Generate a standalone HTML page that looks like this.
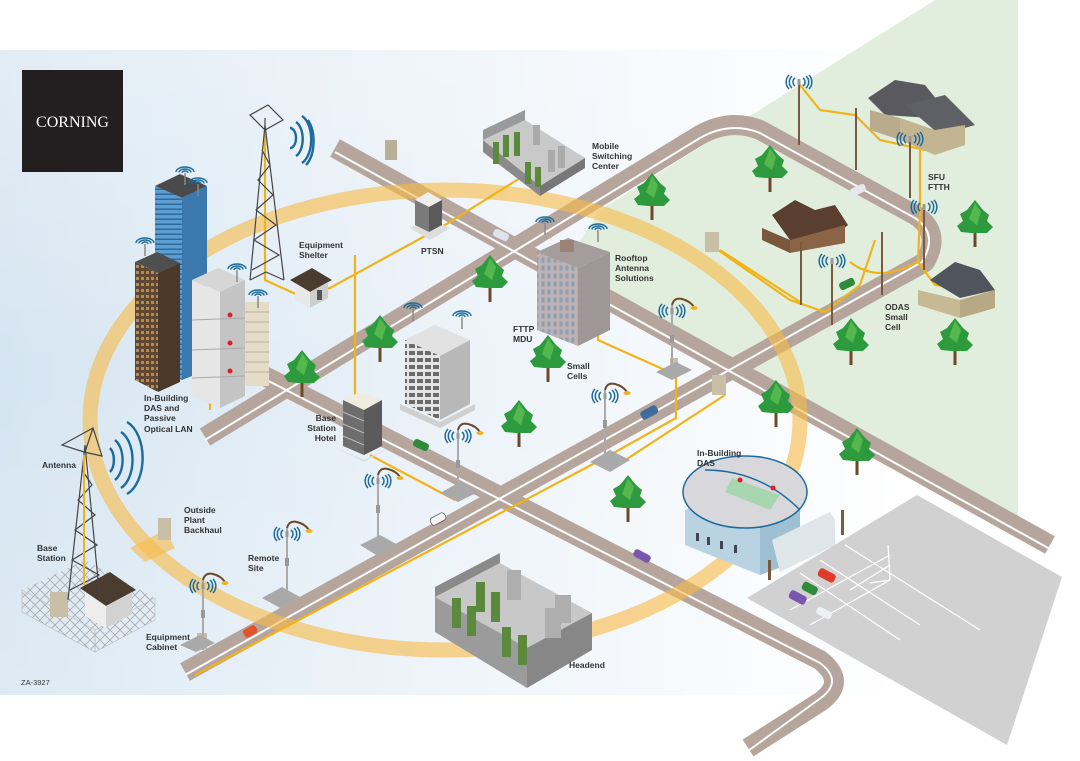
<!DOCTYPE html>
<html><head><meta charset="utf-8"><style>
html,body{margin:0;padding:0;background:#fff;}
svg{display:block;}
text{font-family:"Liberation Sans",Arial,sans-serif;font-weight:bold;font-size:8.5px;fill:#333;}
</style></head><body>
<svg width="1080" height="761" viewBox="0 0 1080 761" xmlns="http://www.w3.org/2000/svg">
<defs>
<linearGradient id="bg" x1="0" y1="0" x2="900" y2="0" gradientUnits="userSpaceOnUse">
<stop offset="0" stop-color="#d5e5f1"/><stop offset="0.45" stop-color="#e9f1f8"/><stop offset="1" stop-color="#ffffff"/></linearGradient>
<linearGradient id="bgv" x1="0" y1="50" x2="0" y2="695" gradientUnits="userSpaceOnUse">
<stop offset="0" stop-color="#fff" stop-opacity="0.3"/><stop offset="0.5" stop-color="#fff" stop-opacity="0"/><stop offset="1" stop-color="#fff" stop-opacity="0.2"/></linearGradient>
<pattern id="win" width="4" height="5" patternUnits="userSpaceOnUse"><rect width="4" height="5" fill="#5d9ed2"/><rect y="3.5" width="4" height="1.5" fill="#2f6a9c"/></pattern>
<pattern id="winb" width="5" height="6" patternUnits="userSpaceOnUse"><rect width="5" height="6" fill="#5e4631"/><rect x="1" y="1" width="3" height="3" fill="#b58a55"/></pattern>
<pattern id="wing" width="8" height="7" patternUnits="userSpaceOnUse"><rect width="8" height="7" fill="#e4e4e4"/><rect x="1" y="1" width="6" height="4" fill="#6b6b6b"/></pattern>
<pattern id="winp" width="6" height="8" patternUnits="userSpaceOnUse"><rect width="6" height="8" fill="#bdb3b5"/><rect x="1.5" y="1.5" width="3" height="5" fill="#8e9fb3"/></pattern>
<pattern id="lat" width="10" height="10" patternUnits="userSpaceOnUse"><path d="M0,0L10,10M10,0L0,10" stroke="#aaa" stroke-width="0.8"/></pattern>
<symbol id="tree" viewBox="-20 -45 40 50" overflow="visible">
<rect x="-1.5" y="-12" width="3" height="14" fill="#6b4a2a"/>
<path d="M0,-45 L8,-35 L14,-30 L12,-24 L18,-18 L12,-12 L4,-12 L-4,-12 L-14,-13 L-18,-19 L-12,-24 L-15,-31 L-8,-35 Z" fill="#2e9a3e"/>
<path d="M0,-42 L6,-33 L2,-20 L-6,-26 Z" fill="#55b84f"/>
</symbol>
<symbol id="sig" viewBox="-12 -8 24 16" overflow="visible">
<g fill="none" stroke="#1d6b9c" stroke-width="1.5">
<path d="M-4,-4 A5,5 0 0 0 -4,4"/><path d="M-7,-6 A8,8 0 0 0 -7,6"/><path d="M-10,-7 A10,10 0 0 0 -10,7"/>
<path d="M4,-4 A5,5 0 0 1 4,4"/><path d="M7,-6 A8,8 0 0 1 7,6"/><path d="M10,-7 A10,10 0 0 1 10,7"/></g>
<rect x="-1.5" y="-3" width="3" height="6" fill="#999"/>
</symbol>
<symbol id="dome" viewBox="-10 -6 20 12" overflow="visible">
<g fill="none" stroke="#1d6b9c" stroke-width="1.4">
<path d="M-9,1 A9,5 0 0 1 9,1"/><path d="M-6,1.5 A6,3.5 0 0 1 6,1.5"/><path d="M-3,2 A3,2 0 0 1 3,2"/></g>
<line x1="0" y1="2" x2="0" y2="14" stroke="#888" stroke-width="1.5"/>
</symbol>
<symbol id="lamp" viewBox="0 0 30 80" overflow="visible">
<line x1="0" y1="0" x2="0" y2="70" stroke="#aaa" stroke-width="2"/>
<path d="M0,0 Q2,-8 10,-6 Q18,-4 22,2" fill="none" stroke="#6b4a2a" stroke-width="2"/>
<ellipse cx="22" cy="3" rx="3.5" ry="2" fill="#f0b020"/>
<rect x="-2" y="30" width="4" height="8" fill="#999"/>
<use href="#sig" x="-12" y="-2" width="24" height="16"/>
</symbol>
</defs>

<rect x="0" y="50" width="1080" height="645" fill="url(#bg)"/>
<rect x="0" y="50" width="1080" height="645" fill="url(#bgv)"/>
<polygon points="935,0 1018,0 1018,528 560,272 600,210" fill="#e2eedd"/>

<polygon points="747,598 917,495 1062,577 1007,745" fill="#d1d1d1"/>
<g stroke="#fff" stroke-width="1.2"><line x1="800" y1="573" x2="900" y2="640"/><line x1="820" y1="560" x2="920" y2="625"/><line x1="845" y1="545" x2="980" y2="630"/><line x1="790" y1="610" x2="890" y2="555"/><line x1="810" y1="625" x2="890" y2="580"/><line x1="850" y1="590" x2="890" y2="565"/><line x1="890" y1="580" x2="888" y2="545"/><line x1="870" y1="583" x2="890" y2="580"/></g>

<g fill="none" stroke="#b5a59c" stroke-width="20" stroke-linejoin="round">
<path d="M335,148 L1050,545"/>
<path d="M205,437 L700,135 Q730,118 760,130 L915,215 Q942,232 925,262 L185,672"/>
<path d="M200,343 L820,660 Q848,682 820,702 L748,748"/>
</g>
<g fill="none" stroke="#fff" stroke-width="2" stroke-linejoin="round">
<path d="M335,152 L1050,549"/>
<path d="M205,440 L700,138 Q730,121 760,133 L915,218 Q939,234 922,262 L185,675"/>
<path d="M200,346 L820,663 Q845,682 818,700 L748,751"/>
</g>

<ellipse cx="445" cy="420" rx="355" ry="230" fill="none" stroke="#f7bb4a" stroke-opacity="0.62" stroke-width="15"/>
<polygon points="130,548 165,530 175,548 145,562" fill="#f7bb4a" opacity="0.62"/>

<g fill="none" stroke="#f1b317" stroke-width="2.2">
<path d="M265,130 L265,280 L300,296 L330,288 L445,225 L520,178"/>
<path d="M355,255 L355,395"/>
<path d="M195,675 L610,455 L676,418 L676,370"/>
<path d="M598,258 L598,340 L676,375"/>
<path d="M370,455 L455,500"/>
<path d="M610,470 L725,395"/>
<path d="M718,250 L790,300 L825,312 L860,285 L875,240"/>
<path d="M800,85 L820,110 L855,115 L880,140 L925,150 L960,145"/>
<path d="M920,150 L920,210 L918,262 L935,285 L960,288"/>
<path d="M720,250 L800,302"/>
<path d="M850,262 Q880,285 920,260"/>
<path d="M210,290 L210,410"/>
</g>

<rect x="22" y="70" width="101" height="102" fill="#231f20"/>
<text x="72.5" y="127" text-anchor="middle" style="font-family:'Liberation Serif',serif;font-weight:normal;font-size:16px;fill:#fff">CORNING</text>

<polygon points="155,186 180,174 207,186 182,198" fill="#4a4a4a"/>
<polygon points="155,186 182,198 182,380 155,368" fill="url(#win)"/>
<polygon points="182,198 207,186 207,370 182,380" fill="#3a78ad"/>
<use href="#dome" x="188" y="176" width="20" height="12"/>
<use href="#dome" x="175" y="165" width="20" height="12"/>
<polygon points="135,262 157,252 180,263 158,273" fill="#4f4f4f"/>
<polygon points="135,262 158,273 158,392 135,380" fill="url(#winb)"/>
<polygon points="158,273 180,263 180,382 158,392" fill="#4b3828"/>
<use href="#dome" x="135" y="236" width="20" height="12"/>
<polygon points="192,280 218,268 245,280 220,292" fill="#d6d6d6"/>
<polygon points="192,280 220,292 220,408 192,396" fill="#e6e6e6"/>
<polygon points="220,292 245,280 245,396 220,408" fill="#c4c4c4"/>
<g stroke="#aaa" stroke-width="1"><line x1="192" y1="320" x2="245" y2="318"/><line x1="192" y1="350" x2="245" y2="348"/><line x1="192" y1="378" x2="245" y2="376"/></g>
<g fill="#e02020"><circle cx="230" cy="315" r="2.5"/><circle cx="230" cy="343" r="2.5"/><circle cx="230" cy="371" r="2.5"/></g>
<use href="#dome" x="227" y="262" width="20" height="12"/>
<rect x="245" y="302" width="24" height="84" fill="#e4dcc6"/>
<g stroke="#b9b09a" stroke-width="1"><line x1="245" y1="312" x2="269" y2="312"/><line x1="245" y1="322" x2="269" y2="322"/><line x1="245" y1="332" x2="269" y2="332"/><line x1="245" y1="342" x2="269" y2="342"/><line x1="245" y1="352" x2="269" y2="352"/><line x1="245" y1="362" x2="269" y2="362"/><line x1="245" y1="372" x2="269" y2="372"/></g>
<use href="#dome" x="248" y="288" width="20" height="12"/>

<g fill="none" stroke="#444" stroke-width="1.2">
<path d="M265,125 L250,280 M265,125 L284,280 M250,280 L266,272 L284,280"/>
<path d="M262,150 L270,165 L258,180 L273,195 L256,210 L276,225 L254,240 L279,255 L252,270"/>
<path d="M250,115 L268,105 L283,120 L265,130 Z M265,118 L265,125"/>
</g>
<g fill="none" stroke="#1d6b9c" stroke-width="2.4"><path d="M290,128 A6,10 0 0 1 290,148"/><path d="M296,122 A10,18 0 0 1 296,156"/><path d="M302,116 A14,25 0 0 1 302,163"/><path d="M308,120 A16,28 0 0 1 306,165"/></g>

<polygon points="290,280 312,268 332,280 310,292" fill="#4a3c2e"/>
<polygon points="295,283 310,292 310,308 295,300" fill="#e8e8e8"/>
<polygon points="310,292 328,282 328,298 310,308" fill="#cfcfcf"/>
<rect x="317" y="290" width="5" height="10" fill="#555"/>

<polygon points="410,228 428,218 450,228 430,240" fill="#ddd"/>
<polygon points="415,200 428,192 442,200 429,207" fill="#eee"/>
<polygon points="415,200 429,207 429,232 415,225" fill="#7a7a7a"/>
<polygon points="429,207 442,200 442,225 429,232" fill="#5a5a5a"/>
<rect x="385" y="140" width="12" height="20" fill="#b9b09a"/>

<polygon points="483,140 525,120 585,158 540,186" fill="#c9c9c9"/>
<polygon points="483,140 540,186 540,196 483,152" fill="#8a8a8a"/>
<polygon points="540,186 585,158 585,168 540,196" fill="#777"/>
<polygon points="483,140 525,120 525,110 483,130" fill="#9a9a9a"/>
<g fill="#5c8a3c"><rect x="493" y="142" width="6" height="22"/><rect x="503" y="135" width="6" height="22"/><rect x="514" y="132" width="6" height="24"/><rect x="525" y="162" width="6" height="22"/><rect x="535" y="167" width="6" height="20"/></g>
<g fill="#aaa"><rect x="548" y="150" width="7" height="22"/><rect x="558" y="146" width="7" height="22"/><rect x="533" y="125" width="7" height="20"/></g>

<polygon points="537,252 568,238 610,252 578,268" fill="#a59c9e"/>
<polygon points="537,252 578,268 578,346 537,330" fill="url(#winp)"/>
<polygon points="578,268 610,252 610,330 578,346" fill="#9f9698"/>
<rect x="560" y="240" width="14" height="12" fill="#9b8475"/>
<use href="#dome" x="535" y="215" width="20" height="12"/>
<use href="#dome" x="588" y="222" width="20" height="12"/>

<polygon points="405,340 435,325 470,340 440,356" fill="#e2e2e2"/>
<polygon points="405,340 440,356 440,420 405,404" fill="url(#wing)"/>
<polygon points="440,356 470,340 470,404 440,420" fill="#b8b8b8"/>
<polygon points="400,404 440,422 475,404 475,410 440,428 400,410" fill="#d0d0d0"/>
<use href="#dome" x="403" y="301" width="20" height="12"/>
<use href="#dome" x="452" y="309" width="20" height="12"/>

<polygon points="343,400 360,392 382,400 364,410" fill="#f0ece0"/>
<polygon points="343,400 364,410 364,455 343,446" fill="#6e6e6e"/>
<polygon points="364,410 382,400 382,446 364,455" fill="#5a5a5a"/>
<g stroke="#bbb" stroke-width="1"><line x1="343" y1="412" x2="364" y2="421"/><line x1="343" y1="424" x2="364" y2="433"/><line x1="343" y1="436" x2="364" y2="445"/></g>
<polygon points="336,448 364,460 388,448 364,462" fill="#ddd"/>

<polygon points="435,597 500,563 592,613 527,648" fill="#c8c8c8"/>
<polygon points="435,597 527,648 527,688 435,632" fill="#9b9b9b"/>
<polygon points="527,648 592,613 592,650 527,688" fill="#878787"/>
<polygon points="435,597 500,563 500,553 435,587" fill="#8a8a8a"/>
<g fill="#5c8a3c"><rect x="452" y="598" width="9" height="30"/><rect x="467" y="606" width="9" height="30"/><rect x="476" y="582" width="9" height="30"/><rect x="491" y="592" width="9" height="30"/><rect x="502" y="627" width="9" height="30"/><rect x="518" y="635" width="9" height="30"/></g>
<g fill="#aeaeae"><rect x="507" y="570" width="14" height="30"/><rect x="545" y="608" width="16" height="30"/><rect x="555" y="595" width="16" height="28"/></g>

<polygon points="685,510 740,485 800,505 800,560 760,575 685,545" fill="#b9d3e2"/>
<polygon points="760,575 800,560 800,505 760,520" fill="#9fbfd2"/>
<ellipse cx="745" cy="492" rx="62" ry="36" fill="#d8d8dc" stroke="#1d6b9c" stroke-width="1.5"/>
<path d="M705,470 Q760,470 800,510" fill="none" stroke="#1d6b9c" stroke-width="1.5"/>
<polygon points="732,478 780,495 770,510 725,492" fill="#a8d6b0"/>
<polygon points="772,540 830,512 835,520 835,545 780,572" fill="#dfe6ea"/>
<g fill="#445"><rect x="696" y="533" width="3" height="8"/><rect x="707" y="537" width="3" height="8"/><rect x="720" y="541" width="3" height="8"/><rect x="734" y="545" width="3" height="8"/></g>
<circle cx="740" cy="480" r="2.5" fill="#e02020"/><circle cx="773" cy="488" r="2.5" fill="#e02020"/>
<rect x="768" y="560" width="3" height="20" fill="#7a5a3a"/><rect x="841" y="510" width="3" height="25" fill="#7a5a3a"/>

<polygon points="868,98 895,80 925,85 945,110 930,118 885,115" fill="#59595f"/>
<polygon points="905,105 945,95 975,125 940,135" fill="#5f6066"/>
<polygon points="870,110 900,118 900,140 870,130" fill="#b9ac8c"/>
<polygon points="900,118 935,130 965,125 965,145 935,155 900,140" fill="#c4b592"/>
<polygon points="772,215 795,200 815,210 835,205 848,225 830,240 790,240" fill="#5a3e30"/>
<polygon points="762,228 790,240 790,253 762,240" fill="#7a563c"/>
<polygon points="790,240 845,225 845,243 790,253" fill="#8a6444"/>
<polygon points="930,280 955,262 980,270 995,290 960,298" fill="#4e555d"/>
<polygon points="918,290 960,300 960,318 918,305" fill="#c7b994"/>
<polygon points="960,300 995,290 995,308 960,318" fill="#b8a985"/>

<g stroke="#7a5a3a" stroke-width="2"><line x1="799" y1="82" x2="799" y2="145"/><line x1="856" y1="108" x2="856" y2="170"/><line x1="910" y1="140" x2="910" y2="198"/><line x1="924" y1="205" x2="924" y2="270"/><line x1="882" y1="232" x2="882" y2="295"/><line x1="832" y1="260" x2="832" y2="325"/><line x1="801" y1="242" x2="801" y2="305"/></g>
<use href="#sig" x="787" y="74" width="24" height="16"/>
<use href="#sig" x="898" y="131" width="24" height="16"/>
<use href="#sig" x="912" y="199" width="24" height="16"/>
<use href="#sig" x="820" y="253" width="24" height="16"/>

<rect x="705" y="232" width="14" height="20" fill="#c9bfa6"/>
<rect x="712" y="375" width="14" height="20" fill="#c9bfa6"/>
<rect x="158" y="518" width="13" height="22" fill="#c9bfa6"/>
<rect x="197" y="633" width="10" height="16" fill="#c9bfa6"/>
<rect x="670" y="358" width="8" height="14" fill="#c9bfa6"/>

<g fill="#a9a9a9"><polygon points="590,462 610,450 630,460 610,472"/><polygon points="360,545 380,535 398,545 378,556"/><polygon points="440,493 460,482 478,492 458,502"/><polygon points="262,598 282,587 300,597 280,608"/><polygon points="180,645 200,635 215,643 196,652"/><polygon points="656,372 676,362 692,370 672,380"/></g>
<use href="#lamp" x="605" y="390" width="30" height="80"/>
<use href="#lamp" x="378" y="475" width="30" height="80"/>
<use href="#lamp" x="458" y="430" width="30" height="80"/>
<use href="#lamp" x="287" y="528" width="30" height="80"/>
<use href="#lamp" x="203" y="580" width="30" height="80"/>
<use href="#lamp" x="672" y="305" width="30" height="80"/>

<g><rect x="640" y="408" width="18" height="9" rx="3" fill="#3f6e9c" transform="rotate(-28 649 412)"/>
<rect x="413" y="441" width="16" height="8" rx="3" fill="#2f8a3a" transform="rotate(25 421 445)"/>
<rect x="430" y="515" width="16" height="8" rx="3" fill="#f4f4f4" stroke="#333" stroke-width="0.6" transform="rotate(-28 438 519)"/>
<rect x="243" y="627" width="14" height="9" rx="3" fill="#e2552a" transform="rotate(-28 250 631)"/>
<rect x="633" y="552" width="18" height="8" rx="3" fill="#7b56b0" transform="rotate(28 642 556)"/>
<rect x="493" y="231" width="16" height="8" rx="3" fill="#dde4ec" transform="rotate(25 501 235)"/>
<rect x="850" y="186" width="16" height="8" rx="3" fill="#e5e8ee" transform="rotate(-25 858 190)"/>
<rect x="839" y="280" width="16" height="8" rx="3" fill="#2f8a3a" transform="rotate(-25 847 284)"/>
<rect x="818" y="571" width="18" height="9" rx="3" fill="#e03a2a" transform="rotate(28 827 575)"/>
<rect x="802" y="584" width="16" height="9" rx="3" fill="#2f8a3a" transform="rotate(28 810 588)"/>
<rect x="789" y="593" width="18" height="9" rx="3" fill="#7b56b0" transform="rotate(28 798 597)"/>
<rect x="816" y="609" width="16" height="8" rx="3" fill="#eceff3" transform="rotate(28 824 613)"/></g>

<use href="#tree" x="632" y="173" width="40" height="50"/>
<use href="#tree" x="750" y="145" width="40" height="50"/>
<use href="#tree" x="955" y="200" width="40" height="50"/>
<use href="#tree" x="470" y="255" width="40" height="50"/>
<use href="#tree" x="360" y="315" width="40" height="50"/>
<use href="#tree" x="282" y="350" width="40" height="50"/>
<use href="#tree" x="528" y="335" width="40" height="50"/>
<use href="#tree" x="499" y="400" width="40" height="50"/>
<use href="#tree" x="608" y="475" width="40" height="50"/>
<use href="#tree" x="756" y="380" width="40" height="50"/>
<use href="#tree" x="837" y="428" width="40" height="50"/>
<use href="#tree" x="831" y="318" width="40" height="50"/>
<use href="#tree" x="935" y="318" width="40" height="50"/>

<polygon points="22,590 85,560 155,598 95,630" fill="url(#lat)"/>
<polygon points="22,590 95,630 95,652 22,612" fill="url(#lat)" stroke="#bbb" stroke-width="0.6"/>
<polygon points="95,630 155,598 155,620 95,652" fill="url(#lat)" stroke="#bbb" stroke-width="0.6"/>
<polygon points="80,588 110,572 136,590 106,606" fill="#4a3c2e"/>
<polygon points="85,592 106,606 106,628 85,616" fill="#eee"/>
<polygon points="106,606 132,592 132,614 106,628" fill="#d2d2d2"/>
<rect x="50" y="592" width="18" height="25" fill="#c9bfa6"/>
<g fill="none" stroke="#444" stroke-width="1.2">
<path d="M85,445 L68,600 M85,445 L100,600"/>
<path d="M82,470 L92,485 L78,500 L95,515 L75,530 L97,545 L72,560 L99,575 L70,590"/>
<path d="M62,445 L93,428 L102,456 L84,452 Z M93,428 L85,452"/>
</g>
<line x1="84" y1="455" x2="84" y2="585" stroke="#f1b317" stroke-width="2"/>
<g fill="none" stroke="#1d6b9c" stroke-width="2.4"><path d="M110,448 A8,14 0 0 1 110,472"/><path d="M115,440 A13,22 0 0 1 115,480"/><path d="M121,432 A18,30 0 0 1 121,488"/><path d="M127,422 A23,38 0 0 1 127,494"/></g>

<text x="299" y="248">Equipment</text><text x="299" y="258">Shelter</text>
<text x="421" y="254">PTSN</text>
<text x="592" y="149">Mobile</text><text x="592" y="159">Switching</text><text x="592" y="169">Center</text>
<text x="615" y="261">Rooftop</text><text x="615" y="271">Antenna</text><text x="615" y="281">Solutions</text>
<text x="513" y="332">FTTP</text><text x="513" y="342">MDU</text>
<text x="567" y="369">Small</text><text x="567" y="379">Cells</text>
<text x="928" y="180">SFU</text><text x="928" y="190">FTTH</text>
<text x="885" y="310">ODAS</text><text x="885" y="320">Small</text><text x="885" y="330">Cell</text>
<text x="144" y="401">In-Building</text><text x="144" y="411">DAS and</text><text x="144" y="421">Passive</text><text x="144" y="432">Optical LAN</text>
<text x="336" y="421" text-anchor="end">Base</text><text x="336" y="431" text-anchor="end">Station</text><text x="336" y="441" text-anchor="end">Hotel</text>
<text x="42" y="468">Antenna</text>
<text x="184" y="513">Outside</text><text x="184" y="523">Plant</text><text x="184" y="533">Backhaul</text>
<text x="37" y="551">Base</text><text x="37" y="561">Station</text>
<text x="248" y="561">Remote</text><text x="248" y="571">Site</text>
<text x="146" y="640">Equipment</text><text x="146" y="650">Cabinet</text>
<text x="569" y="668">Headend</text>
<text x="697" y="456">In-Building</text><text x="697" y="466">DAS</text>
<text x="21" y="685" style="font-weight:normal;font-size:7.5px">ZA-3927</text>
</svg>
</body></html>
